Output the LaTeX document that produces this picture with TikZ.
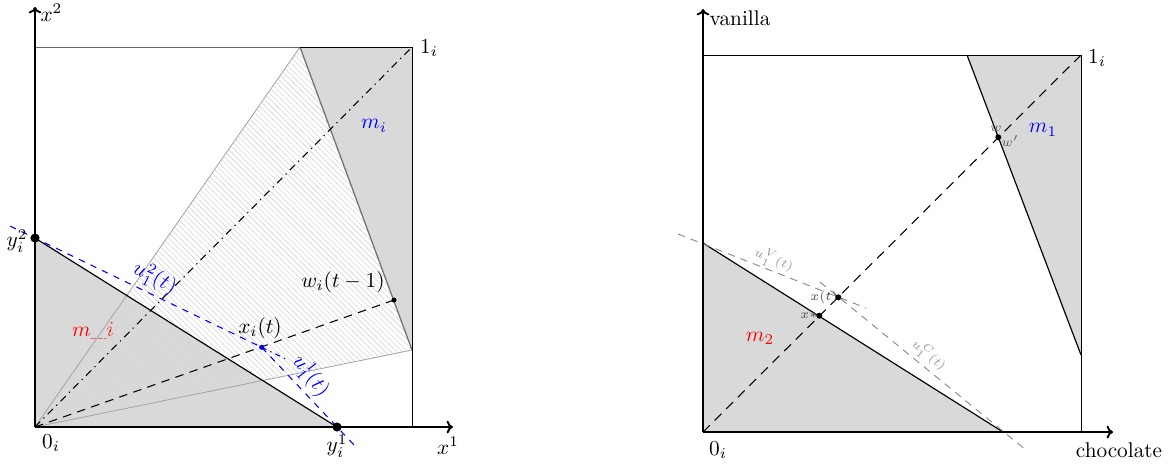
\documentclass[tikz,border=0pt]{standalone}
\usetikzlibrary{patterns.meta,arrows.meta}
\begin{document}
\begin{tikzpicture}[x=0.47pt,y=-0.47pt,
  axisline/.style={line width=0.9pt,-{To[length=3pt,width=6pt]}},
  boxline/.style={line width=0.4pt},
  grayfill/.style={fill=black!15},
  hatch/.style={pattern={Lines[angle=-45,distance=1.9pt,line width=0.3pt]},pattern color=black!16},
  bigdot/.style={circle,fill,inner sep=0pt,minimum size=4.3pt},
  smalldot/.style={circle,fill,inner sep=0pt,minimum size=2.4pt},
  lbl/.style={inner sep=1pt},
  tinylbl/.style={font=\fontsize{6.5}{7}\selectfont,inner sep=0.5pt},
  bluedash/.style={blue,dashed,line width=0.5pt},
  graydash/.style={black!45,dash pattern=on 3.5pt off 2.8pt,line width=0.45pt},
  longdash/.style={dash pattern=on 4pt off 3pt,line width=0.5pt}
]
\useasboundingbox (0,0) rectangle (1172,464);

% ---------------- left panel ----------------
\coordinate (O) at (35,427);
\coordinate (Xend) at (453,427);
\coordinate (Yend) at (35,7);
\coordinate (TL) at (35,47);
\coordinate (TR) at (412,47);
\coordinate (BR) at (412,427);
\coordinate (P) at (300,47);
\coordinate (Q) at (412,350);
\coordinate (Y2) at (35,238);
\coordinate (Y1) at (337,427);
\coordinate (W) at (394,300);
\coordinate (XI) at (261.7,347.3);
\coordinate (U2s) at (10,226);
\coordinate (U2e) at (288,360);
\coordinate (U1e) at (355,446);

\fill[grayfill] (P) -- (TR) -- (Q) -- cycle;
\fill[grayfill] (Y2) -- (O) -- (Y1) -- cycle;
\node[lbl,text=red] (mmi) at (93,331) {$m\_i$};
\fill[hatch] (O) -- (P) -- (Q) -- cycle;
\draw[black!35,line width=0.4pt] (O) -- (P);
\draw[black!35,line width=0.4pt] (O) -- (Q);
\draw[black!55,line width=0.6pt] (P) -- (Q);
\draw[black!60,boxline] (TL) -- (P);
\draw[boxline] (P) -- (TR) -- (BR);
\draw[line width=0.55pt] (Y2) -- (Y1);
\draw[line width=0.5pt,dash pattern=on 3.5pt off 2.2pt on 0.6pt off 2.2pt] (O) -- (TR);
\draw[longdash] (O) -- (W);
\draw[bluedash] (U2s) -- (XI);
\draw[blue,line width=0.5pt,dash pattern=on 2.5pt off 2pt on 0.6pt off 2pt] (XI) -- (U2e);
\draw[bluedash] (XI) -- (U1e);
\draw[axisline] (O) -- (Xend);
\draw[axisline] (O) -- (Yend);
\node[bigdot] (y2dot) at (Y2) {};
\node[bigdot] (y1dot) at (Y1) {};
\node[smalldot] (wdot) at (W) {};
\node[smalldot,fill=blue!80!black] (xidot) at (XI) {};

\node[lbl,anchor=west] (lx2) at (38,13) {$x^2$};
\node[lbl] (lx1) at (448,446) {$x^1$};
\node[lbl] (l0) at (51,443) {$0_i$};
\node[lbl] (l1) at (429,48) {$1_i$};
\node[lbl] (ly1) at (337,446) {$y_i^1$};
\node[lbl] (ly2) at (17,241) {$y_i^2$};
\node[lbl,text=blue] (lmi) at (374,126) {$m_i$};
\node[lbl] (lw) at (343,282) {$w_i(t-1)$};
\node[lbl] (lxi) at (260,328) {$x_i(t)$};
\node[lbl,text=blue,rotate=-27] (lu2) at (155,278) {$u_1^2(t)$};
\node[lbl,text=blue,rotate=-52] (lu1) at (311,376) {$u_1^1(t)$};

% ---------------- right panel ----------------
\coordinate (O2) at (703,432);
\coordinate (X2end) at (1113,432);
\coordinate (Y2end) at (703,9);
\coordinate (TL2) at (703,55);
\coordinate (TR2) at (1081,55);
\coordinate (BR2) at (1081,432);
\coordinate (P2) at (967,55);
\coordinate (Q2) at (1081,355);
\coordinate (A2) at (703,243);
\coordinate (B2) at (1003,432);
\coordinate (WW) at (998.3,137.3);
\coordinate (XT) at (838.3,297.3);
\coordinate (XS) at (819.3,315.7);
\coordinate (UVs) at (678,234);
\coordinate (UVe) at (866,308);
\coordinate (UCs) at (820,282);
\coordinate (UCe) at (1026,450);

\fill[grayfill] (P2) -- (TR2) -- (Q2) -- cycle;
\fill[grayfill] (A2) -- (O2) -- (B2) -- cycle;
\draw[boxline] (TL2) -- (TR2) -- (BR2);
\draw[line width=0.55pt] (P2) -- (Q2);
\draw[line width=0.55pt] (A2) -- (B2);
\draw[longdash,dash pattern=on 4.5pt off 3.2pt] (O2) -- (TR2);
\draw[graydash] (UVs) -- (UVe);
\draw[graydash] (UCs) -- (UCe);
\draw[axisline] (O2) -- (X2end);
\draw[axisline] (O2) -- (Y2end);
\node[smalldot,minimum size=2.8pt] (wwdot) at (WW) {};
\node[smalldot,minimum size=2.8pt] (xtdot) at (XT) {};
\node[smalldot,minimum size=2.8pt] (xsdot) at (XS) {};

\node[lbl,anchor=west] (lvan) at (707,18) {vanilla};
\node[lbl] (lchoc) at (1119,450) {chocolate};
\node[lbl] (l02) at (718,450) {$0_i$};
\node[lbl] (l12) at (1097,58) {$1_i$};
\node[lbl,text=blue] (lm1) at (1043,130) {$m_1$};
\node[lbl,text=red] (lm2) at (760,338) {$m_2$};
\node[tinylbl,text=black!65] (lww) at (996,129) {$w$};
\node[tinylbl,text=black!65] (lwp) at (1010,141) {$w'$};
\node[tinylbl,text=black!70] (lxt) at (824,297) {$x(t)$};
\node[tinylbl,text=black!70] (lxs) at (809,316) {$x*$};
\node[tinylbl,text=black!40,rotate=-22] (luv) at (774,260) {$u_1^V(t)$};
\node[tinylbl,text=black!40,rotate=-40] (luc) at (929,355) {$u_1^C(t)$};
\end{tikzpicture}
\end{document}
